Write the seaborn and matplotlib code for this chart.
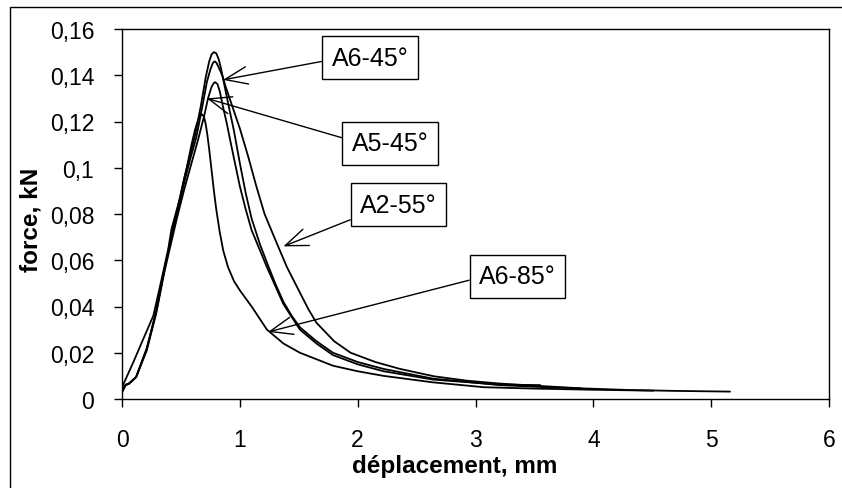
import numpy as np
import pandas as pd
import matplotlib
matplotlib.use("Agg")
import matplotlib.pyplot as plt
from matplotlib.patches import Rectangle
import seaborn as sns

# ---------------- data ----------------
a6_45_x = [0.00, 0.03, 0.06, 0.12, 0.21, 0.29, 0.36, 0.41, 0.47, 0.53, 0.58, 0.62, 0.67, 0.71, 0.74, 0.76, 0.78,
           0.80, 0.82, 0.84, 0.86, 0.90, 0.95, 1.00, 1.05, 1.10, 1.17, 1.23, 1.30, 1.37, 1.44, 1.51, 1.65, 1.79, 2.00,
           2.22, 2.64, 3.21, 3.55, 3.90]
a6_45_y = [0.003, 0.0062, 0.0068, 0.0095, 0.022, 0.038, 0.056, 0.068, 0.082, 0.096, 0.106, 0.114, 0.127, 0.139, 0.146, 0.149, 0.150,
           0.1495, 0.147, 0.143, 0.138, 0.128, 0.116, 0.102, 0.089, 0.078, 0.067, 0.059, 0.050, 0.042, 0.036, 0.031, 0.025, 0.020, 0.016,
           0.013, 0.0088, 0.0060, 0.0052, 0.0046]

a5_45_x = [0.00, 0.03, 0.06, 0.12, 0.21, 0.29, 0.36, 0.41, 0.47, 0.53, 0.59, 0.645, 0.70, 0.73, 0.76, 0.78, 0.79,
           0.81, 0.83, 0.85, 0.89, 0.93, 1.00, 1.05, 1.10, 1.23, 1.37, 1.51, 1.65, 1.79, 2.00, 2.22, 2.64, 3.21, 3.55]
a5_45_y = [0.003, 0.006, 0.0066, 0.0095, 0.021, 0.037, 0.055, 0.066, 0.079, 0.091, 0.102, 0.112, 0.123, 0.130, 0.135, 0.1367, 0.137,
           0.1362, 0.133, 0.128, 0.119, 0.109, 0.092, 0.082, 0.073, 0.057, 0.041, 0.030, 0.024, 0.019, 0.015, 0.012, 0.0084, 0.0062, 0.0060]

a2_55_x = [0.00, 0.03, 0.06, 0.12, 0.21, 0.29, 0.36, 0.41, 0.47, 0.53, 0.58, 0.63, 0.68, 0.72, 0.75, 0.77, 0.785,
           0.80, 0.82, 0.85, 0.88, 0.94, 1.00, 1.07, 1.14, 1.21, 1.30, 1.40, 1.51, 1.58, 1.65, 1.80, 1.94, 2.15, 2.36,
           2.65, 2.93, 3.20, 3.49, 3.90, 4.30, 4.70, 5.16]
a2_55_y = [0.003, 0.006, 0.0066, 0.0095, 0.0216, 0.0375, 0.056, 0.068, 0.081, 0.094, 0.104, 0.113, 0.126, 0.137, 0.1425, 0.1452, 0.146,
           0.1455, 0.1435, 0.140, 0.135, 0.126, 0.117, 0.105, 0.092, 0.080, 0.069, 0.057, 0.046, 0.039, 0.033, 0.025, 0.020, 0.016, 0.013,
           0.0098, 0.0079, 0.0067, 0.0058, 0.0046, 0.0039, 0.0035, 0.0032]

a6_85_x = [0.00, 0.025, 0.096, 0.181, 0.266, 0.337, 0.393, 0.42, 0.49, 0.55, 0.59, 0.62, 0.645, 0.665, 0.68,
           0.695, 0.71, 0.725, 0.74, 0.76, 0.78, 0.80, 0.83, 0.86, 0.90, 0.95, 1.00, 1.10, 1.23, 1.37, 1.51, 1.79, 2.00,
           2.22, 2.64, 3.07, 3.50, 4.00, 4.51]
a6_85_y = [0.005, 0.0079, 0.0159, 0.026, 0.036, 0.052, 0.065, 0.0735, 0.0865, 0.100, 0.110, 0.1165, 0.1205, 0.1225, 0.123,
           0.1222, 0.119, 0.114, 0.108, 0.099, 0.090, 0.082, 0.072, 0.064, 0.057, 0.051, 0.047, 0.040, 0.030, 0.024, 0.020, 0.0144, 0.012,
           0.010, 0.0072, 0.0051, 0.0045, 0.0040, 0.0036]

series_names = ["A6-45°", "A5-45°", "A2-55°", "A6-85°"]
series_x = [a6_45_x, a5_45_x, a2_55_x, a6_85_x]
series_y = [a6_45_y, a5_45_y, a2_55_y, a6_85_y]

# label box centres and arrow tips (data units)
label_text_xy = [(2.105, 0.1475), (2.274, 0.1105), (2.347, 0.0841), (3.357, 0.0530)]
arrow_tips = [(0.857, 0.138), (0.72, 0.130), (1.37, 0.066), (1.24, 0.029)]
arrow_relpos = [(0.0, 0.43), (0.0, 0.62), (0.0, 0.03), (0.0, 0.45)]

x_ticks = [0, 1, 2, 3, 4, 5, 6]
x_tick_labels = ["0", "1", "2", "3", "4", "5", "6"]
y_ticks = [0, 0.02, 0.04, 0.06, 0.08, 0.10, 0.12, 0.14, 0.16]
y_tick_labels = ["0", "0,02", "0,04", "0,06", "0,08", "0,1", "0,12", "0,14", "0,16"]

x_label = "déplacement, mm"
y_label = "force, kN"

# ---------------- build long table ----------------
frames = []
for name, xs, ys in zip(series_names, series_x, series_y):
    frames.append(pd.DataFrame({"x": xs, "y": ys, "serie": name, "order": np.arange(len(xs))}))
df = pd.concat(frames, ignore_index=True)

# ---------------- plotting ----------------
sns.set_theme(style="white")
plt.rcParams["font.family"] = ["Liberation Sans", "DejaVu Sans"]

fig = plt.figure(figsize=(8.42, 4.89), dpi=100)
ax = fig.add_axes([122 / 842, 89 / 489, 707 / 842, 370 / 489])

sns.lineplot(data=df, x="x", y="y", hue="serie", units="serie", estimator=None, sort=False,
             palette={n: "black" for n in series_names}, legend=False, linewidth=1.3, ax=ax)

ax.set_xlim(0, 6)
ax.set_ylim(0, 0.16)
ax.set_xticks(x_ticks)
ax.set_xticklabels(x_tick_labels)
ax.set_yticks(y_ticks)
ax.set_yticklabels(y_tick_labels)
ax.tick_params(axis="both", which="major", direction="out", length=6, width=1, color="black",
               labelsize=16.5, labelcolor="black", bottom=True, left=True)
ax.tick_params(axis="x", pad=15)
ax.tick_params(axis="y", pad=14)
for s in ax.spines.values():
    s.set_visible(True)
    s.set_color("black")
    s.set_linewidth(1.0)

ax.set_xlabel(x_label, fontsize=17.5, fontweight="bold", color="black")
ax.set_ylabel(y_label, fontsize=17.5, fontweight="bold", color="black")
ax.xaxis.set_label_coords(0.47, -0.148)
ax.yaxis.set_label_coords(-0.113, 0.486)

for name, txy, tip, rp in zip(series_names, label_text_xy, arrow_tips, arrow_relpos):
    ax.annotate(name, xy=tip, xytext=txy, textcoords="data", fontsize=18, color="black",
                ha="center", va="center",
                bbox=dict(boxstyle="square,pad=0.38", fc="white", ec="black", lw=1.0),
                arrowprops=dict(arrowstyle="->,head_length=0.9,head_width=0.35", color="black",
                                lw=1.0, shrinkA=0, shrinkB=0, relpos=rp),
                zorder=5)

# outer frame of the figure (left and top edges visible)
fig.patches.append(Rectangle((9.5 / 842, -0.05), 1.2, 1.05 - 8 / 489, transform=fig.transFigure,
                             fill=False, ec="black", lw=1.0))

fig.savefig("out.png", dpi=100)
